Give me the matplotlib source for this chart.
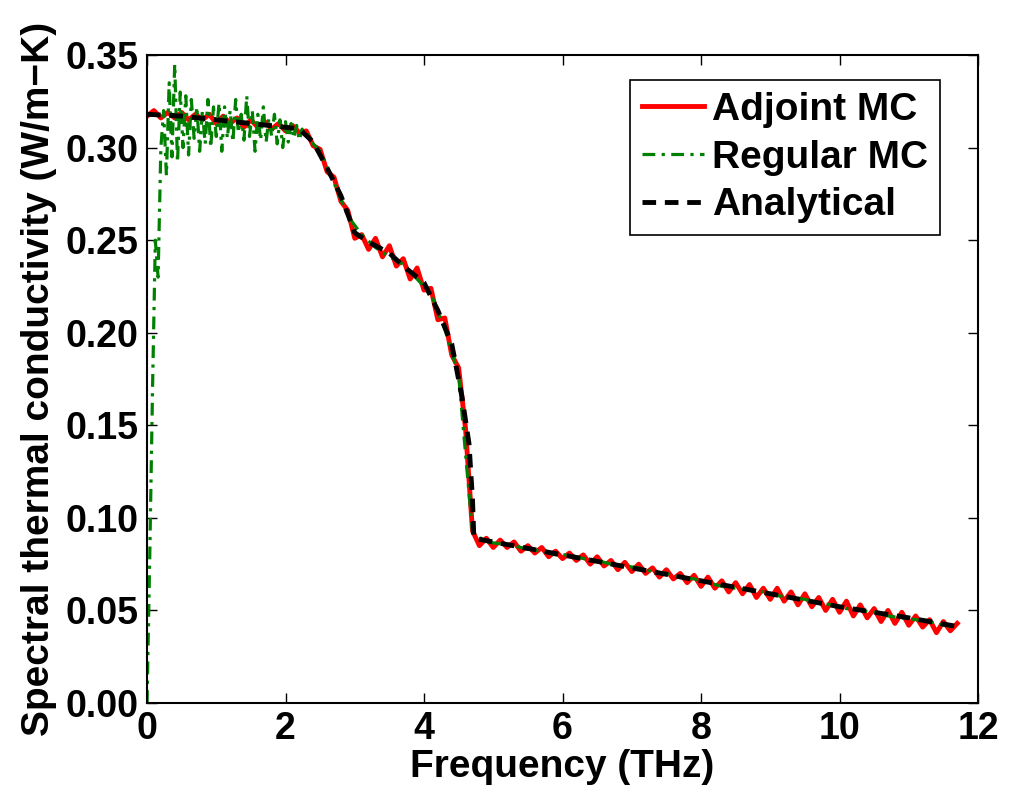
import numpy as np
import matplotlib
matplotlib.use('Agg')
import matplotlib.pyplot as plt

# Analytical curve (knots)
ana_f = [0.0, 0.5, 1.0, 1.5, 2.0, 2.2, 2.4, 2.6, 2.8, 3.0, 3.2, 3.5, 3.7, 4.0,
         4.2, 4.4, 4.55, 4.65, 4.70, 4.72, 5.0, 6.0, 7.0, 8.0, 9.0, 10.0, 11.0, 11.75]
ana_k = [0.318, 0.317, 0.315, 0.313, 0.311, 0.310, 0.303, 0.289, 0.274, 0.254,
         0.249, 0.243, 0.236, 0.227, 0.212, 0.194, 0.165, 0.140, 0.110, 0.089,
         0.087, 0.080, 0.073, 0.066, 0.059, 0.052, 0.046, 0.041]

# Adjoint MC, 0.0 .. 11.7 THz every 0.1 THz
adj_k = [0.317, 0.320, 0.316, 0.319, 0.316, 0.319, 0.315, 0.318, 0.315, 0.318,
         0.313, 0.317, 0.313, 0.316, 0.311, 0.315, 0.311, 0.314, 0.310, 0.313,
         0.309, 0.312, 0.308, 0.309, 0.301, 0.299, 0.287, 0.284, 0.271, 0.266,
         0.251, 0.253, 0.245, 0.251, 0.241, 0.247, 0.236, 0.240, 0.229, 0.235,
         0.223, 0.224, 0.207, 0.208, 0.188, 0.181, 0.148, 0.093, 0.085, 0.089,
         0.084, 0.088, 0.084, 0.087, 0.082, 0.085, 0.081, 0.084, 0.079, 0.082,
         0.078, 0.081, 0.077, 0.080, 0.075, 0.079, 0.074, 0.077, 0.072, 0.076,
         0.071, 0.075, 0.070, 0.073, 0.068, 0.072, 0.067, 0.070, 0.065, 0.069,
         0.063, 0.068, 0.062, 0.066, 0.060, 0.065, 0.059, 0.064, 0.057, 0.062,
         0.056, 0.062, 0.055, 0.060, 0.053, 0.059, 0.052, 0.057, 0.050, 0.056,
         0.049, 0.055, 0.047, 0.053, 0.046, 0.051, 0.044, 0.050, 0.043, 0.049,
         0.042, 0.047, 0.041, 0.045, 0.038, 0.044, 0.039, 0.043]
adj_f = np.linspace(0.0, 11.7, len(adj_k))

# Regular MC, low band 0.0 .. 2.4 THz every 0.04 THz
reg_k_low = [0.000, 0.080, 0.170, 0.250, 0.230, 0.300, 0.320, 0.285, 0.335, 0.295,
             0.345, 0.292, 0.330, 0.300, 0.328, 0.296, 0.326, 0.305, 0.322, 0.298,
             0.320, 0.302, 0.326, 0.300, 0.322, 0.306, 0.324, 0.298, 0.322, 0.305,
             0.320, 0.303, 0.326, 0.308, 0.318, 0.304, 0.328, 0.306, 0.320, 0.298,
             0.318, 0.304, 0.322, 0.303, 0.316, 0.306, 0.318, 0.302, 0.315, 0.300,
             0.314, 0.303, 0.313, 0.305, 0.312, 0.304, 0.310, 0.306, 0.307, 0.303,
             0.302]
# Regular MC, 2.5 .. 11.7 THz every 0.2 THz
reg_k_high = [0.298, 0.281, 0.263, 0.253, 0.246, 0.241, 0.237, 0.229, 0.221, 0.202,
              0.177, 0.092, 0.087, 0.086, 0.085, 0.083, 0.082, 0.080, 0.080, 0.078,
              0.077, 0.075, 0.074, 0.073, 0.071, 0.070, 0.068, 0.067, 0.065, 0.063,
              0.062, 0.061, 0.060, 0.058, 0.057, 0.056, 0.054, 0.053, 0.051, 0.050,
              0.049, 0.047, 0.046, 0.045, 0.044, 0.042, 0.041]
reg_f = np.concatenate([np.linspace(0.0, 2.4, len(reg_k_low)),
                        np.linspace(2.5, 11.7, len(reg_k_high))])
reg_k = np.concatenate([reg_k_low, reg_k_high])

plt.rcParams['font.family'] = ['Liberation Sans', 'DejaVu Sans']
plt.rcParams['font.weight'] = 'bold'

fig = plt.figure(figsize=(10.09, 7.94), dpi=100)
ax = fig.add_axes([0.1457, 0.1146, 0.8236, 0.8161])

ax.plot(adj_f, adj_k, color='#ff0000', lw=3.5, label='Adjoint MC')
ax.plot(reg_f, reg_k, color='#008000', lw=2.3, ls=(0, (4, 2, 1, 2)), label='Regular MC')
ax.plot(ana_f, ana_k, color='black', lw=3.5, ls=(0, (2.8, 1.8)), label='Analytical')

ax.set_xlim(0, 12)
ax.set_ylim(0, 0.35)
ax.set_xticks(np.arange(0, 13, 2))
ax.set_yticks(np.arange(0, 0.351, 0.05))
ax.set_yticklabels(['%.2f' % v for v in np.arange(0, 0.351, 0.05)])
ax.tick_params(direction='in', top=True, right=True, length=7, width=1,
               labelsize=27, pad=6)
for s in ax.spines.values():
    s.set_linewidth(1.5)

ax.set_xlabel('Frequency (THz)', fontsize=28, fontweight='bold', labelpad=1)
ax.set_ylabel('Spectral thermal conductivity (W/m\u2212K)', fontsize=28,
              fontweight='bold', labelpad=6)

leg = ax.legend(loc='upper right', bbox_to_anchor=(0.954, 0.961), fontsize=28,
                frameon=True, fancybox=False, handlelength=1.6, handletextpad=0.2,
                borderpad=0.3, labelspacing=0.3, borderaxespad=0)
leg.get_frame().set_edgecolor('black')
leg.get_frame().set_linewidth(1.2)
leg.get_frame().set_alpha(1)
for t in leg.get_texts():
    t.set_fontweight('bold')

fig.savefig('out.png', dpi=100)
